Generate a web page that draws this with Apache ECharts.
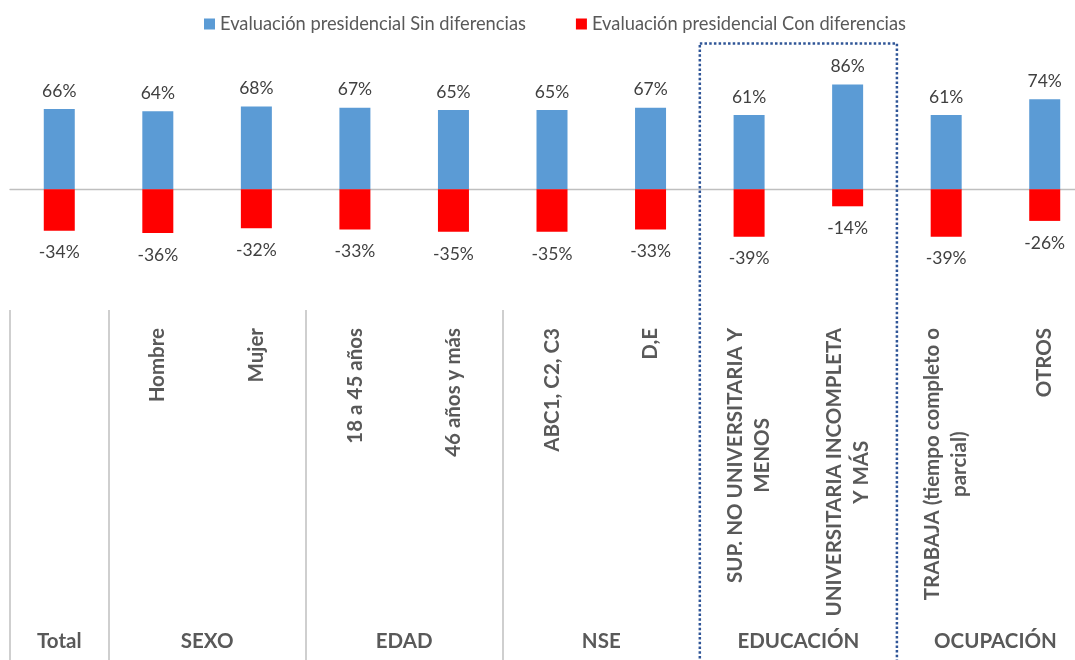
<!DOCTYPE html>
<html>
<head>
<meta charset="utf-8">
<script src="https://cdn.jsdelivr.net/npm/echarts@6/dist/echarts.min.js"></script>
<style>
html,body{margin:0;padding:0;background:#fff;}
#chart{width:1075px;height:660px;}
</style>
</head>
<body>
<div id="chart"></div>
<script>
// ---- data ----
const categories = ['', 'Hombre', 'Mujer', '18 a 45 años', '46 años y más', 'ABC1, C2, C3', 'D,E',
  'SUP. NO UNIVERSITARIA Y\nMENOS', 'UNIVERSITARIA INCOMPLETA\nY MÁS', 'TRABAJA (tiempo completo o\nparcial)', 'OTROS'];
const sinDiferencias = [66, 64, 68, 67, 65, 65, 67, 61, 86, 61, 74];
const conDiferencias = [-34, -36, -32, -33, -35, -35, -33, -39, -14, -39, -26];
const seriesNames = ['Evaluación presidencial Sin diferencias', 'Evaluación presidencial Con diferencias'];
const groupNames = ['Total', 'SEXO', 'EDAD', 'NSE', 'EDUCACIÓN', 'OCUPACIÓN'];
const groupStart = [0, 1, 3, 5, 7, 9];
const groupEnd = [1, 3, 5, 7, 9, 11];
const highlightedGroup = 4; // EDUCACIÓN framed with dotted box

// ---- options ----
const FONT = 'Lato';
const groupCenters = groupStart.map((s, i) => (s + groupEnd[i]) / 2);
const solidSeparators = groupStart.filter((s, i) => i !== highlightedGroup && i !== highlightedGroup + 1);

const gridBase = { left: 10, width: 1084, outerBoundsMode: 'none', containLabel: false };
const chart = echarts.init(document.getElementById('chart'), null, { renderer: 'canvas' });

const option = {
  animation: false,
  backgroundColor: '#ffffff',
  textStyle: { fontFamily: FONT },
  legend: {
    data: seriesNames,
    left: 199, top: 10,
    itemWidth: 11, itemHeight: 11, itemGap: 50,
    icon: 'rect',
    textStyle: { fontFamily: FONT, fontSize: 18.3, color: '#595959' }
  },
  grid: [
    Object.assign({ top: 67.5, height: 243.5 }, gridBase),
    Object.assign({ top: 310, height: 350 }, gridBase),
    Object.assign({ top: 43.5, height: 625 }, gridBase)
  ],
  xAxis: [
    { type: 'category', gridIndex: 0, data: categories,
      axisLine: { onZero: true, lineStyle: { color: '#BFBFBF', width: 1.3 } },
      axisTick: { show: false }, axisLabel: { show: false }, splitLine: { show: false } },
    { type: 'category', gridIndex: 0, data: categories, position: 'bottom',
      axisLine: { show: false, onZero: false }, axisTick: { show: false }, splitLine: { show: false },
      axisLabel: {
        rotate: 90, margin: 17, interval: 0,
        formatter: v => v.split('\n').map(s => '{c|' + s + '}').join('\n'),
        rich: { c: { align: 'center', fontFamily: FONT, fontWeight: 'bold', fontSize: 20.5, color: '#595959', lineHeight: 27 } }
      } },
    { type: 'value', gridIndex: 1, min: 0, max: 11, interval: 0.5, position: 'bottom',
      axisLine: { show: false, onZero: false }, axisTick: { show: false }, splitLine: { show: false },
      axisLabel: {
        inside: true, margin: 19, verticalAlign: 'middle', showMinLabel: true, showMaxLabel: true,
        fontFamily: FONT, fontWeight: 'bold', fontSize: 20.5, color: '#595959',
        formatter: v => { const i = groupCenters.findIndex(c => Math.abs(c - v) < 1e-6); return i >= 0 ? groupNames[i] : ''; }
      } },
    { type: 'value', gridIndex: 2, min: 0, max: 11, show: false }
  ],
  yAxis: [
    { type: 'value', gridIndex: 0, min: -100, max: 100, show: false, splitLine: { show: false } },
    { type: 'value', gridIndex: 1, min: 0, max: 1, show: false, splitLine: { show: false } },
    { type: 'value', gridIndex: 2, min: 0, max: 1, show: false, splitLine: { show: false } }
  ],
  series: [
    { name: seriesNames[0], type: 'bar', stack: 'total', xAxisIndex: 0, yAxisIndex: 0,
      data: sinDiferencias, barWidth: 31,
      itemStyle: { color: '#5B9BD5' },
      label: { show: true, position: 'top', distance: 9, formatter: '{c}%',
        fontFamily: FONT, fontSize: 17.5, color: '#404040' } },
    { name: seriesNames[1], type: 'bar', stack: 'total', xAxisIndex: 0, yAxisIndex: 0,
      data: conDiferencias, barWidth: 31,
      itemStyle: { color: '#FF0000' },
      label: { show: true, position: 'bottom', distance: 13, formatter: '{c}%',
        fontFamily: FONT, fontSize: 17.5, color: '#404040' } },
    { name: 'separators', type: 'line', xAxisIndex: 2, yAxisIndex: 1, data: [], silent: true,
      markLine: { silent: true, symbol: 'none', label: { show: false },
        lineStyle: { color: '#BFBFBF', width: 1.5, type: 'solid' },
        data: solidSeparators.map(x => ({ xAxis: x })) } },
    { name: 'frame', type: 'line', xAxisIndex: 3, yAxisIndex: 2, data: [], silent: true,
      markArea: { silent: true, label: { show: false },
        itemStyle: { color: 'rgba(0,0,0,0)', borderColor: '#2F5597', borderWidth: 2.5, borderType: [2.5, 2.2] },
        data: [[{ xAxis: groupStart[highlightedGroup], yAxis: 1 }, { xAxis: groupEnd[highlightedGroup], yAxis: 0 }]] } }
  ]
};
chart.setOption(option);
</script>
</body>
</html>
